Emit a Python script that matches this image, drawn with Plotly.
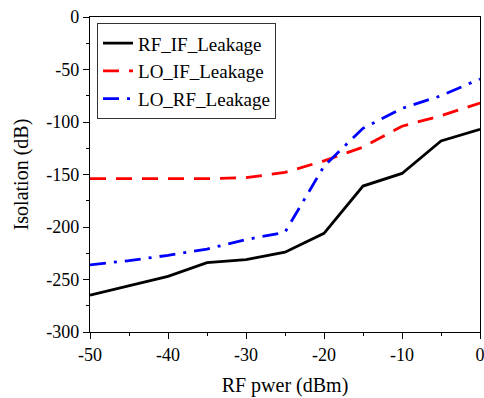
import plotly.graph_objects as go

x_vals = [-50, -45, -40, -35, -30, -25, -20, -15, -10, -5, 0]
rf_if = [-265, -256, -247, -234, -231, -224, -206, -161, -149, -118, -107]
lo_if = [-154, -154, -154, -154, -153, -148, -137, -124, -104, -94, -82]
lo_rf = [-236, -232, -227, -221, -212, -205, -142, -106, -87, -75, -59]

x_ticks = [-50, -40, -30, -20, -10, 0]
y_ticks = [0, -50, -100, -150, -200, -250, -300]

fig = go.Figure()
fig.add_trace(go.Scatter(x=x_vals, y=rf_if, mode="lines", name="RF_IF_Leakage",
                         line=dict(color="black", width=2.8)))
fig.add_trace(go.Scatter(x=x_vals, y=lo_if, mode="lines", name="LO_IF_Leakage",
                         line=dict(color="#ff0000", width=2.8, dash="16px,10px")))
fig.add_trace(go.Scatter(x=x_vals, y=lo_rf, mode="lines", name="LO_RF_Leakage",
                         line=dict(color="#0000ff", width=2.8, dash="16px,8px,3px,8px")))

font = "Liberation Serif"
fig.update_layout(
    width=484, height=398,
    margin=dict(l=90, r=4, t=17, b=66),
    paper_bgcolor="white", plot_bgcolor="white",
    font=dict(family=font, size=18, color="black"),
    showlegend=True,
    legend=dict(x=0.018, y=0.98, xanchor="left", yanchor="top",
                bordercolor="#333333", borderwidth=1, bgcolor="white",
                font=dict(family=font, size=19, color="black"), tracegroupgap=0,
                itemwidth=30),
    xaxis=dict(range=[-50, 0], tickvals=x_ticks, ticktext=[str(v) for v in x_ticks],
               showgrid=False, zeroline=False, showline=True, linecolor="black",
               linewidth=1.3, mirror=True, ticks="outside", ticklen=6, tickcolor="black",
               tickfont=dict(family=font, size=18, color="black"), automargin=False,
               ticklabeloverflow="allow",
               minor=dict(dtick=5, ticks="outside", ticklen=3, tickcolor="black"),
               title=dict(text="RF pwer (dBm)", font=dict(family=font, size=20, color="black"),
                          standoff=14)),
    yaxis=dict(range=[-300, 0], tickvals=y_ticks, ticktext=[str(v) for v in y_ticks],
               showgrid=False, zeroline=False, showline=True, linecolor="black",
               linewidth=1.3, mirror=True, ticks="outside", ticklen=6, tickcolor="black",
               tickfont=dict(family=font, size=18, color="black"), automargin=False,
               ticklabeloverflow="allow",
               minor=dict(dtick=25, ticks="outside", ticklen=3, tickcolor="black"),
               title=dict(text="Isolation (dB)", font=dict(family=font, size=20, color="black"),
                          standoff=12)),
)

fig.write_html("out.html", config={"displayModeBar": False},
               post_script="document.body.style.margin='0';document.body.style.overflow='hidden';")
